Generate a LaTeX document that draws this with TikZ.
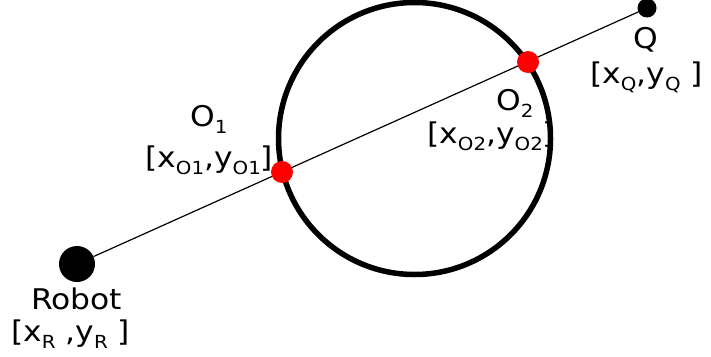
\documentclass[tikz,border=0pt]{standalone}
\usepackage{fontspec}
\setmainfont[FakeStretch=1.1]{DejaVu Sans}
\definecolor{cruce}{HTML}{FF0000}
\newcommand{\bajo}[1]{\raisebox{-0.28em}{\fontsize{18}{18}\selectfont #1}}

\begin{document}
\begin{tikzpicture}[x=1pt,y=-1pt,
   punto/.style={circle,fill=black,inner sep=0pt},
   interseccion/.style={circle,fill=cruce,inner sep=0pt,minimum size=22pt},
   obstaculo/.style={circle,draw=black,line width=5.5pt,inner sep=0pt,minimum size=272pt},
   etiqueta/.style={anchor=base west,inner sep=0pt,font=\fontsize{28.5}{30}\selectfont}]

  \useasboundingbox (0,0) rectangle (711,356);

  % obstaculo
  \node[obstaculo] (obst) at (414.5,138.5) {};

  % extremos
  \node[punto,minimum size=36pt] (robot) at (77,264) {};
  \node[punto,minimum size=19pt] (q) at (647,8) {};
  \draw[line width=1.2pt] (robot) -- (q);

  % --- cortes con el circulo ---
  \node[interseccion] (o1) at (282,172) {};
  \node[interseccion] (o2) at (528,62) {};

  % --- textos ---
  \node[etiqueta] (robotnom) at (31,309) {Robot};
  \node[etiqueta] (robotpos) at (11,341) {[x\bajo{R} ,y\bajo{R} ]};
  \node[etiqueta] (o1nom) at (190,126) {O\bajo{1}};
  \node[etiqueta] (o1pos) at (145,167) {[x\bajo{O1},y\bajo{O1}]};
  \node[etiqueta] (o2nom) at (496,110) {O\bajo{2}};
  \node[etiqueta] (o2pos) at (427,143) {[x\bajo{O2},y\bajo{O2}]};
  \node[etiqueta] (qnom) at (633,48) {Q};
  \node[etiqueta] (qpos) at (590,83) {[x\bajo{Q},y\bajo{Q} ]};
\end{tikzpicture}
\end{document}
